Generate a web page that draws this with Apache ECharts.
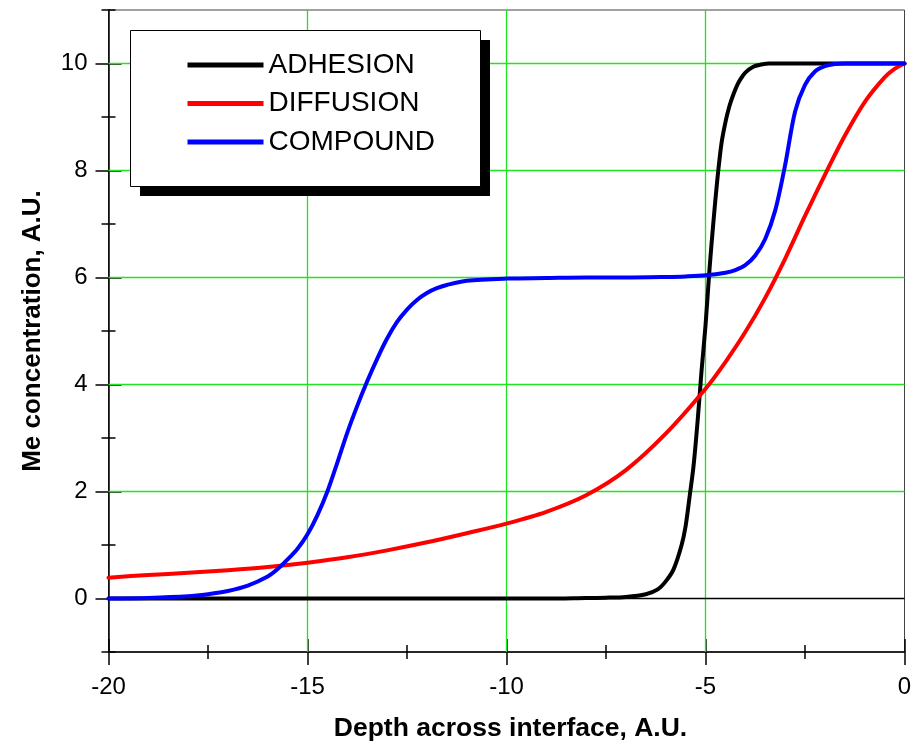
<!DOCTYPE html>
<html><head><meta charset="utf-8">
<script src="https://cdn.jsdelivr.net/npm/echarts@6/dist/echarts.min.js"></script>
<style>html,body{margin:0;padding:0;background:#fff}#c{width:914px;height:745px}</style>
</head><body><div id="c"></div>
<script>
const seriesNames = ['ADHESION', 'DIFFUSION', 'COMPOUND'];
const yMajorTicks = [0, 2, 4, 6, 8, 10];
const xGridLines = [-15, -10, -5];
const yGridLines = [2, 4, 6, 8, 10];
const zeroLine = 0;

const adhesionX = [-20, -12, -9, -8, -7.5, -7, -6.5, -6.2, -6.0, -5.8, -5.6, -5.5, -5.4, -5.3, -5.2, -5.1, -5.0, -4.9, -4.8, -4.7, -4.6, -4.5, -4.4, -4.3, -4.2, -4.1, -4.0, -3.8, -3.6, -3.4, -3.0, -2, -1, 0];
const adhesionY = [0, 0, 0, 0.01, 0.015, 0.03, 0.08, 0.17, 0.32, 0.55, 1.0, 1.35, 1.9, 2.48, 3.3, 4.25, 5.1, 6.15, 7.05, 7.85, 8.5, 8.9, 9.2, 9.42, 9.6, 9.73, 9.83, 9.94, 9.98, 10, 10, 10, 10, 10];

const diffusionX = [-20, -19, -18, -17, -16, -15, -14, -13, -12, -11, -10, -9, -8, -7, -6, -5, -4.5, -4, -3.5, -3, -2.5, -2, -1.5, -1, -0.5, -0.25, 0];
const diffusionY = [0.39, 0.44, 0.48, 0.53, 0.59, 0.67, 0.77, 0.9, 1.05, 1.22, 1.4, 1.62, 1.93, 2.4, 3.08, 3.92, 4.42, 4.98, 5.62, 6.35, 7.15, 7.92, 8.65, 9.28, 9.74, 9.9, 10];

const compoundX = [-20, -19, -18, -17.5, -17, -16.5, -16, -15.75, -15.5, -15.25, -15, -14.75, -14.5, -14.25, -14, -13.75, -13.5, -13.25, -13, -12.75, -12.5, -12.25, -12, -11.75, -11.5, -11, -10, -9, -8, -7, -6, -5.5, -5, -4.5, -4.25, -4, -3.75, -3.5, -3.25, -3, -2.75, -2.5, -2.25, -2, -1.75, -1.5, -1, 0];
const compoundY = [0, 0.01, 0.04, 0.08, 0.14, 0.24, 0.41, 0.55, 0.73, 0.93, 1.2, 1.56, 2.0, 2.54, 3.1, 3.6, 4.06, 4.48, 4.86, 5.17, 5.4, 5.58, 5.71, 5.8, 5.86, 5.94, 5.98, 5.99, 6, 6, 6.01, 6.02, 6.04, 6.09, 6.14, 6.23, 6.41, 6.72, 7.25, 8.1, 9.1, 9.6, 9.85, 9.95, 9.99, 10, 10, 10];

const pairs = (xs, ys) => xs.map((x, i) => [x, ys[i]]);
const FONT = 'Liberation Sans, Arial, Helvetica, sans-serif';
const X_MIN = -20, X_MAX = 0, Y_MIN = -1, Y_MAX = 11;

const chart = echarts.init(document.getElementById('c'), null, {renderer: 'canvas'});

const xBase = {type: 'value', min: X_MIN, max: X_MAX, interval: 5, position: 'bottom', splitLine: {show: false}};
const yBase = {type: 'value', min: Y_MIN, max: Y_MAX, interval: 1, position: 'left', splitLine: {show: false}};
const black = {color: '#000', width: 1.5};

const curve = (name, color, xs, ys) => ({
  name, type: 'line', data: pairs(xs, ys), symbol: 'none', showSymbol: false, smooth: 0.3, clip: false, z: 5,
  lineStyle: {color, width: 4, cap: 'round', join: 'round'}, itemStyle: {color}
});
const refLine = (data, color, width) => ({
  type: 'line', data, symbol: 'none', showSymbol: false, silent: true, z: 1, clip: false,
  lineStyle: {color, width, type: 'solid'}, emphasis: {disabled: true}, tooltip: {show: false}
});

const gridSeries = []
  .concat(xGridLines.map(v => refLine([[v, Y_MIN], [v, Y_MAX]], '#1ee61e', 1.3)))
  .concat(yGridLines.map(v => refLine([[X_MIN, v], [X_MAX, v]], '#1ee61e', 1.3)))
  .concat([refLine([[X_MIN, zeroLine], [X_MAX, zeroLine]], '#000', 1.5)]);

chart.setOption({
  animation: false,
  textStyle: {fontFamily: FONT, color: '#000'},
  grid: {left: 108.5, top: 10, width: 796, height: 642, containLabel: false, outerBoundsMode: 'none',
         show: true, borderColor: '#444', borderWidth: 1, backgroundColor: 'transparent'},
  graphic: [
    {type: 'rect', left: 140, top: 40, shape: {width: 350, height: 156}, style: {fill: '#000'}, z: 10, silent: true},
    {type: 'rect', left: 130, top: 30, shape: {width: 350, height: 156}, style: {fill: '#fff', stroke: '#000', lineWidth: 1}, z: 11, silent: true}
  ],
  xAxis: [
    Object.assign({}, xBase, {
      axisLine: {show: true, onZero: false, lineStyle: black},
      axisTick: {show: true, length: 13, lineStyle: black},
      minorTick: {show: true, splitNumber: 2, length: 7, lineStyle: black},
      axisLabel: {fontSize: 24, margin: 23, color: '#000', fontFamily: FONT},
      name: 'Depth across interface, A.U.', nameLocation: 'middle', nameGap: 63,
      nameTextStyle: {fontSize: 26.5, fontWeight: 'bold', color: '#000', fontFamily: FONT, padding: [0, 0, 0, 8]}
    }),
    Object.assign({}, xBase, {
      axisLine: {show: false, onZero: false},
      axisTick: {show: true, inside: true, length: 13, lineStyle: black},
      minorTick: {show: true, splitNumber: 2, length: 7, lineStyle: black},
      axisLabel: {show: false}
    })
  ],
  yAxis: [
    Object.assign({}, yBase, {
      axisLine: {show: true, onZero: false, lineStyle: black},
      axisTick: {show: true, length: 7, lineStyle: black},
      axisLabel: {show: false},
      name: 'Me concentration, A.U.', nameLocation: 'middle', nameGap: 63,
      nameTextStyle: {fontSize: 26, fontWeight: 'bold', color: '#000', fontFamily: FONT}
    }),
    Object.assign({}, yBase, {
      axisLine: {show: false, onZero: false},
      axisTick: {show: true, inside: true, length: 7, lineStyle: black},
      axisLabel: {show: false}
    }),
    Object.assign({}, yBase, {
      axisLine: {show: false, onZero: false},
      axisTick: {show: true, length: 13, lineStyle: black, customValues: yMajorTicks},
      axisLabel: {show: true, fontSize: 24, margin: 21, color: '#000', fontFamily: FONT, customValues: yMajorTicks}
    }),
    Object.assign({}, yBase, {
      axisLine: {show: false, onZero: false},
      axisTick: {show: true, inside: true, length: 13, lineStyle: black, customValues: yMajorTicks},
      axisLabel: {show: false}
    })
  ],
  legend: {
    data: seriesNames, orient: 'vertical', left: 130, top: 30, z: 20,
    padding: [21, 45, 30, 55], itemWidth: 76, itemHeight: 28, itemGap: 10.5,
    itemStyle: {color: 'rgba(0,0,0,0)', borderWidth: 0, opacity: 0},
    lineStyle: {width: 5, cap: 'butt'},
    textStyle: {fontSize: 28, color: '#000', fontFamily: FONT, lineHeight: 28},
    selectedMode: false
  },
  series: gridSeries.concat([
    curve(seriesNames[0], '#000000', adhesionX, adhesionY),
    curve(seriesNames[1], '#ff0000', diffusionX, diffusionY),
    curve(seriesNames[2], '#0000ff', compoundX, compoundY)
  ])
});
</script></body></html>
